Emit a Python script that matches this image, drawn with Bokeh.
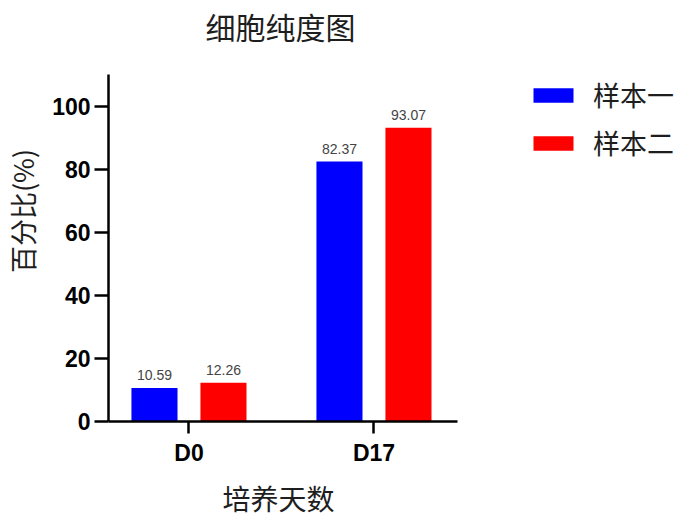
from bokeh.plotting import figure
from bokeh.models import (ColumnDataSource, FixedTicker, Legend, LegendItem,
                          Range1d, LabelSet, Label, Title)
from bokeh.embed import file_html
from bokeh.resources import INLINE
from bokeh.core.properties import value

# ---- data ----
days = ["D0", "D17"]
series_names = ["样本一", "样本二"]
sample1 = [10.59, 82.37]
sample2 = [12.26, 93.07]
series_colors = ["#0000ff", "#ff0000"]
y_ticks = [0, 20, 40, 60, 80, 100]
y_axis_max = 110

chart_title = "细胞纯度图"
x_title = "培养天数"
y_title = "百分比(%)"

CJK = "Noto Sans CJK SC"
LAT = "Liberation Sans"
TXT = "#1e1e1e"

# ---- layout numbers (pixels) ----
px_per_day = 185.0
px_per_unit = 3.155
frame_w = 572
frame_h = 421
x_start = -0.435
x_axis_end = 1.451

p = figure(frame_width=frame_w, frame_height=frame_h,
           output_backend="svg", toolbar_location=None, title=None,
           x_range=Range1d(x_start, x_start + frame_w / px_per_day),
           y_range=Range1d(0, frame_h / px_per_unit),
           min_border_left=0, min_border_right=0,
           min_border_top=0, min_border_bottom=0,
           background_fill_color="white", border_fill_color="white",
           outline_line_color=None)

idx = list(range(len(days)))
offset = 0.1865
bar_w = 0.249
renderers = []
for k, (vals, col) in enumerate(zip([sample1, sample2], series_colors)):
    xs = [i + (-offset if k == 0 else offset) for i in idx]
    src = ColumnDataSource(dict(x=xs, top=vals,
                                lab=[f"{v:.2f}" for v in vals]))
    r = p.vbar(x="x", top="top", width=bar_w, bottom=0, source=src,
               fill_color=col, line_color=None)
    renderers.append(r)
    p.add_layout(LabelSet(x="x", y="top", text="lab", source=src,
                          text_align="center", text_baseline="bottom",
                          y_offset=8, text_font=value(LAT),
                          text_font_size="14px", text_color="#444444"))

# ---- axes ----
p.xgrid.visible = False
p.ygrid.visible = False

yax = p.yaxis[0]
yax.bounds = (0, y_axis_max)
yax.ticker = FixedTicker(ticks=y_ticks)
yax.minor_tick_line_color = None
yax.major_tick_out = 14
yax.major_tick_in = 0
yax.axis_line_width = 2.5
yax.major_tick_line_width = 2.5
yax.axis_line_color = "black"
yax.major_tick_line_color = "black"
yax.major_label_text_font = LAT
yax.major_label_text_font_style = "bold"
yax.major_label_text_font_size = "23px"
yax.major_label_text_color = "black"
yax.major_label_standoff = 4
yax.axis_label = y_title
yax.axis_label_text_font = CJK
yax.axis_label_text_font_style = "normal"
yax.axis_label_text_font_size = "27px"
yax.axis_label_text_color = TXT
yax.axis_label_standoff = 7

xax = p.xaxis[0]
xax.bounds = (x_start, x_axis_end)
xax.ticker = FixedTicker(ticks=idx)
xax.major_label_overrides = {i: d for i, d in zip(idx, days)}
xax.minor_tick_line_color = None
xax.major_tick_out = 12
xax.major_tick_in = 0
xax.axis_line_width = 2.5
xax.major_tick_line_width = 2.5
xax.axis_line_color = "black"
xax.major_tick_line_color = "black"
xax.major_label_text_font = LAT
xax.major_label_text_font_style = "bold"
xax.major_label_text_font_size = "23px"
xax.major_label_text_color = "black"
xax.major_label_standoff = 6

# x axis title, centred under the bounded axis
p.add_layout(Title(text=x_title, align="left", offset=114, standoff=15,
                   text_font=CJK, text_font_style="normal",
                   text_font_size="28px", text_color=TXT), "below")

# ---- chart title ----
p.add_layout(Label(x=172, y=frame_h - 25, x_units="screen", y_units="screen",
                   text=chart_title, text_align="center",
                   text_baseline="middle", text_font=CJK,
                   text_font_size="30px", text_color=TXT))

# ---- legend ----
legend = Legend(items=[LegendItem(label=n, renderers=[r])
                       for n, r in zip(series_names, renderers)],
                location=(420, 259), orientation="vertical",
                glyph_width=50, glyph_height=18, label_standoff=15,
                spacing=9, padding=0, margin=0,
                label_text_font=CJK, label_text_font_size="27px",
                label_text_color=TXT,
                border_line_color=None, background_fill_alpha=0)
p.add_layout(legend, "center")

open("out.html", "w").write(file_html(p, INLINE))
